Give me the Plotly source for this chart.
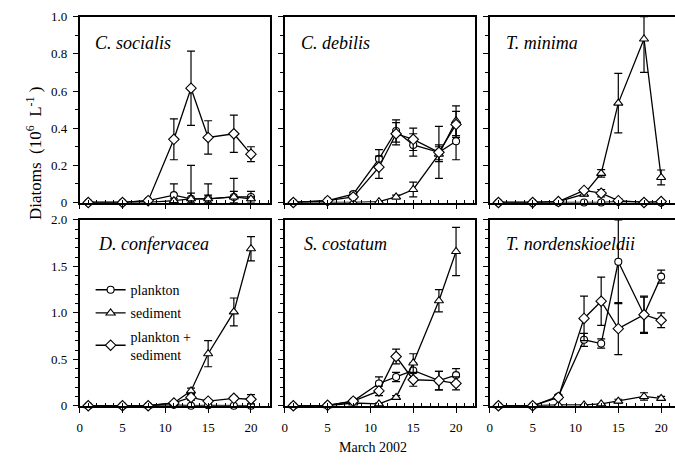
import plotly.graph_objects as go

# ---------------- data ----------------
days = [1, 5, 8, 11, 13, 15, 18, 20]
series_names = ["plankton", "sediment", "plankton + <br>sediment"]
species = ["C. socialis", "C. debilis", "T. minima",
           "D. confervacea", "S. costatum", "T. nordenskioeldii"]

top_ticks = [0, 0.2, 0.4, 0.6, 0.8, 1.0]
top_ticktext = ["0", "0.2", "0.4", "0.6", "0.8", "1.0"]
bot_ticks = [0, 0.5, 1.0, 1.5, 2.0]
bot_ticktext = ["0", "0.5", "1.0", "1.5", "2.0"]
x_ticks = [0, 5, 10, 15, 20]

# C. socialis
cs_pl = [0, 0, 0.01, 0.04, 0.02, 0.02, 0.03, 0.03]
cs_pl_err = [0, 0, 0, 0.06, 0.03, 0.02, 0.03, 0.03]
cs_sed = [0, 0, 0, 0.01, 0.02, 0.02, 0.03, 0.02]
cs_sed_err = [0, 0, 0, 0.01, 0.18, 0.08, 0.10, 0.01]
cs_mix = [0, 0, 0.01, 0.34, 0.615, 0.35, 0.37, 0.26]
cs_mix_err = [0, 0, 0, 0.11, 0.20, 0.09, 0.10, 0.04]

# C. debilis
cd_pl = [0, 0.01, 0.045, 0.235, 0.385, 0.31, 0.27, 0.33]
cd_pl_err = [0, 0, 0.01, 0.05, 0.06, 0.06, 0.04, 0.10]
cd_sed = [0, 0, 0, 0.005, 0.03, 0.07, 0.26, 0.44]
cd_sed_err = [0, 0, 0, 0, 0.01, 0.04, 0.04, 0.08]
cd_mix = [0, 0.01, 0.03, 0.19, 0.37, 0.34, 0.27, 0.42]
cd_mix_err = [0, 0, 0.01, 0.06, 0.06, 0.06, 0.14, 0.07]

# T. minima
tm_pl = [0, 0, 0, 0, 0, 0.005, 0, 0]
tm_pl_err = [0, 0, 0, 0, 0, 0, 0, 0]
tm_sed = [0, 0, 0.005, 0.045, 0.157, 0.535, 0.88, 0.135]
tm_sed_err = [0, 0, 0, 0.01, 0.02, 0.16, 0.18, 0.04]
tm_mix = [0, 0, 0.005, 0.065, 0.05, 0.01, 0, 0.005]
tm_mix_err = [0, 0, 0, 0.01, 0.02, 0.01, 0, 0]

# D. confervacea
dc_pl = [0, 0, 0, 0.01, 0, 0.005, 0, 0]
dc_pl_err = [0, 0, 0, 0, 0, 0, 0, 0]
dc_sed = [0, 0, 0, 0.03, 0.16, 0.56, 1.01, 1.69]
dc_sed_err = [0, 0, 0, 0.01, 0.03, 0.14, 0.15, 0.13]
dc_mix = [0, 0, 0, 0.03, 0.09, 0.05, 0.08, 0.07]
dc_mix_err = [0, 0, 0, 0.01, 0.03, 0.01, 0.02, 0.05]

# S. costatum
sc_pl = [0, 0.005, 0.05, 0.24, 0.31, 0.38, 0.27, 0.33]
sc_pl_err = [0, 0, 0.01, 0.07, 0.05, 0.08, 0.10, 0.07]
sc_sed = [0, 0, 0.03, 0.02, 0.09, 0.46, 1.13, 1.66]
sc_sed_err = [0, 0, 0, 0.01, 0.02, 0.10, 0.12, 0.26]
sc_mix = [0, 0.005, 0.05, 0.16, 0.53, 0.28, 0.27, 0.24]
sc_mix_err = [0, 0, 0.01, 0.05, 0.08, 0.07, 0.10, 0.07]

# T. nordenskioeldii
tn_pl = [0, 0, 0.10, 0.71, 0.67, 1.55, 0.98, 1.39]
tn_pl_err = [0, 0, 0.02, 0.07, 0.05, 0.45, 0.19, 0.07]
tn_sed = [0, 0, 0.01, 0.01, 0.02, 0.05, 0.10, 0.08]
tn_sed_err = [0, 0, 0, 0, 0, 0.02, 0.04, 0.02]
tn_mix = [0, 0, 0.09, 0.94, 1.125, 0.83, 0.98, 0.92]
tn_mix_err = [0, 0, 0.02, 0.24, 0.26, 0.28, 0.20, 0.08]

panels = [
    (cs_pl, cs_pl_err, cs_sed, cs_sed_err, cs_mix, cs_mix_err),
    (cd_pl, cd_pl_err, cd_sed, cd_sed_err, cd_mix, cd_mix_err),
    (tm_pl, tm_pl_err, tm_sed, tm_sed_err, tm_mix, tm_mix_err),
    (dc_pl, dc_pl_err, dc_sed, dc_sed_err, dc_mix, dc_mix_err),
    (sc_pl, sc_pl_err, sc_sed, sc_sed_err, sc_mix, sc_mix_err),
    (tn_pl, tn_pl_err, tn_sed, tn_sed_err, tn_mix, tn_mix_err),
]

# ---------------- layout geometry (pixels) ----------------
W, H = 675, 467
col_px = [(77, 268), (283, 474), (489, 675)]
row_px = [(10, 202), (220, 412)]
px_per_day = 191 / 22.2
FONT = "Liberation Serif, Times New Roman, serif"

def xd(a, b):
    return [a / W, b / W]

def yd(top, bot):
    return [1 - bot / H, 1 - top / H]

fig = go.Figure()
symbols = ["circle", "triangle-up", "diamond"]
sizes = [7, 8, 8]

for i, data in enumerate(panels):
    r, c = divmod(i, 3)
    n = i + 1
    xa = "x" if n == 1 else f"x{n}"
    ya = "y" if n == 1 else f"y{n}"
    ymax = 1.0 if r == 0 else 2.0
    for k in range(3):
        vals = data[2 * k]
        errs = data[2 * k + 1]
        up = [min(e, ymax - v) for v, e in zip(vals, errs)]
        dn = [min(e, v) for v, e in zip(vals, errs)]
        fig.add_trace(go.Scatter(
            x=days, y=vals, xaxis=xa, yaxis=ya,
            mode="lines+markers",
            name=series_names[k],
            legendgroup=series_names[k],
            showlegend=(i == 0),
            line=dict(color="black", width=1.3),
            marker=dict(symbol=symbols[k], size=sizes[k], color="white",
                        line=dict(color="black", width=1.1)),
            error_y=dict(type="data", symmetric=False, array=up, arrayminus=dn,
                         color="black", thickness=1.2, width=4),
            cliponaxis=False,
        ))

    x0, x1 = col_px[c]
    y0, y1 = row_px[r]
    xrange_max = (x1 - x0) / px_per_day
    xkey = "xaxis" if n == 1 else f"xaxis{n}"
    ykey = "yaxis" if n == 1 else f"yaxis{n}"
    fig.layout[xkey] = dict(
        domain=xd(x0, x1), anchor=ya, range=[0, xrange_max],
        showgrid=False, zeroline=False, showline=True, linecolor="black",
        linewidth=1.5, mirror=True,
        tickmode="array", tickvals=x_ticks,
        showticklabels=(r == 1),
        ticks="outside", ticklen=5, tickwidth=1, tickcolor="black",
        ticklabelstandoff=4,
        minor=dict(dtick=1, ticks="inside", ticklen=3, tickwidth=1,
                   tickcolor="black", showgrid=False),
        tickfont=dict(family=FONT, size=13, color="black"),
        fixedrange=True,
    )
    fig.layout[ykey] = dict(
        domain=yd(y0, y1), anchor=xa, range=[0, ymax],
        showgrid=False, zeroline=False, showline=True, linecolor="black",
        linewidth=1.5, mirror=(c != 2),
        tickmode="array",
        tickvals=top_ticks if r == 0 else bot_ticks,
        ticktext=top_ticktext if r == 0 else bot_ticktext,
        showticklabels=(c == 0),
        ticks="outside", ticklen=5, tickwidth=1, tickcolor="black",
        ticklabelstandoff=3,
        minor=dict(dtick=0.1, ticks="outside", ticklen=3, tickwidth=1,
                   tickcolor="black", showgrid=False),
        tickfont=dict(family=FONT, size=13, color="black"),
        fixedrange=True,
    )

annotations = []
label_pos = [(90, 37), (297, 37), (503, 37), (93, 245), (300, 245), (503, 245)]
for name, (lx, ly) in zip(species, label_pos):
    annotations.append(dict(
        text=f"<i>{name}</i>", x=lx / W, y=1 - ly / H, xref="paper", yref="paper",
        xanchor="left", yanchor="middle", showarrow=False,
        font=dict(family=FONT, size=18, color="black")))

annotations.append(dict(
    text="Diatoms  (10<sup>6</sup>  L<sup>-1</sup> )",
    x=31 / W, y=1 - 151 / H, xref="paper", yref="paper",
    xanchor="center", yanchor="middle", textangle=-90, showarrow=False,
    font=dict(family=FONT, size=17, color="black")))
annotations.append(dict(
    text="March 2002", x=372 / W, y=1 - 455 / H, xref="paper", yref="paper",
    xanchor="center", yanchor="middle", showarrow=False,
    font=dict(family=FONT, size=14, color="black")))

fig.update_layout(
    width=W, height=H,
    margin=dict(l=0, r=0, t=0, b=0),
    paper_bgcolor="white", plot_bgcolor="white",
    annotations=annotations,
    showlegend=True,
    legend=dict(x=88 / W, y=1 - 276 / H, xanchor="left", yanchor="top",
                bgcolor="rgba(0,0,0,0)", borderwidth=0,
                font=dict(family=FONT, size=14, color="black"),
                itemwidth=30, tracegroupgap=2),
)

fig.write_html("out.html")
